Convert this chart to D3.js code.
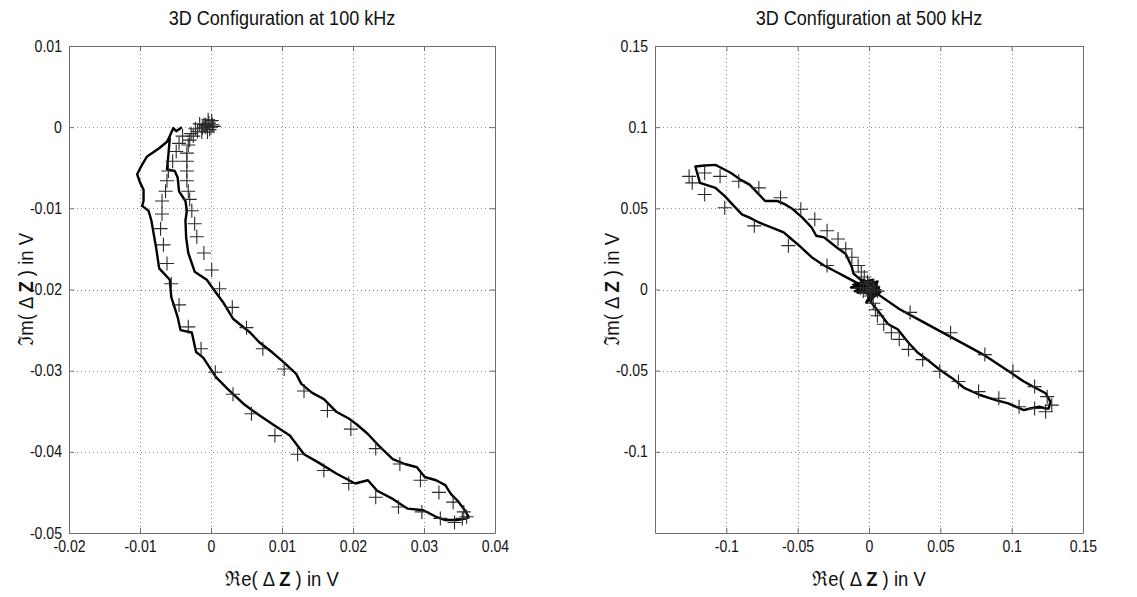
<!DOCTYPE html>
<html><head><meta charset="utf-8">
<script src="https://cdn.jsdelivr.net/npm/d3@7"></script>
<style>body{margin:0;background:#fff}svg{display:block}text{font-family:"Liberation Sans",Arial,sans-serif}</style>
</head><body>
<svg id="fig" width="1137" height="597"></svg>
<script>
// ---- 100 kHz panel ----
const ticksX100=[-0.02,-0.01,0,0.01,0.02,0.03,0.04];
const ticksY100=[0.01,0,-0.01,-0.02,-0.03,-0.04,-0.05];
const loop100=[[-0.0041,0.0000],[-0.0049,-0.0005],[-0.0053,-0.0001],[-0.0058,-0.0011],[-0.0062,-0.0018],[-0.0073,-0.0026],[-0.0090,-0.0036],[-0.0097,-0.0046],[-0.0104,-0.0058],[-0.0100,-0.0068],[-0.0095,-0.0077],[-0.0095,-0.0091],[-0.0097,-0.0097],[-0.0088,-0.0103],[-0.0084,-0.0115],[-0.0081,-0.0130],[-0.0077,-0.0150],[-0.0073,-0.0174],[-0.0058,-0.0188],[-0.0056,-0.0209],[-0.0047,-0.0234],[-0.0043,-0.0250],[-0.0027,-0.0253],[-0.0021,-0.0277],[-0.0011,-0.0284],[0.0007,-0.0308],[0.0024,-0.0323],[0.0046,-0.0341],[0.0068,-0.0355],[0.0090,-0.0368],[0.0111,-0.0380],[0.0131,-0.0403],[0.0151,-0.0413],[0.0177,-0.0427],[0.0203,-0.0439],[0.0221,-0.0435],[0.0234,-0.0448],[0.0256,-0.0458],[0.0277,-0.0470],[0.0299,-0.0472],[0.0317,-0.0480],[0.0330,-0.0484],[0.0347,-0.0484],[0.0360,-0.0482],[0.0363,-0.0480],
[0.0356,-0.0470],[0.0347,-0.0460],[0.0338,-0.0452],[0.0330,-0.0441],[0.0317,-0.0435],[0.0301,-0.0431],[0.0290,-0.0419],[0.0273,-0.0415],[0.0256,-0.0409],[0.0238,-0.0394],[0.0221,-0.0378],[0.0205,-0.0366],[0.0194,-0.0359],[0.0177,-0.0351],[0.0159,-0.0335],[0.0142,-0.0327],[0.0127,-0.0316],[0.0120,-0.0304],[0.0103,-0.0290],[0.0087,-0.0278],[0.0068,-0.0265],[0.0055,-0.0253],[0.0031,-0.0236],[0.0018,-0.0217],[0.0003,-0.0199],[-0.0006,-0.0188],[-0.0023,-0.0178],[-0.0032,-0.0155],[-0.0035,-0.0136],[-0.0036,-0.0115],[-0.0034,-0.0103],[-0.0036,-0.0091],[-0.0045,-0.0079],[-0.0047,-0.0062],[-0.0051,-0.0054],[-0.0062,-0.0052],[-0.0060,-0.0034],[-0.0058,-0.0013]];
const plus100=[[0,0],[0.0004,0.0001],[-0.0003,0.0005],[-0.0006,0.0002],[-0.0002,-0.0003],[-0.0010,0.0003],[0.0001,0.0008],[-0.0005,-0.0006],[-0.0008,0.0000],[-0.0016,0.0004],[-0.0022,-0.0002],[-0.0028,-0.0008],[-0.0013,-0.0006],[0.0002,0.0003],[-0.0004,0.0009],
[-0.0008,0.0003],[-0.0012,-0.0001],[-0.0019,-0.0005],[-0.0025,-0.0011],[-0.0030,-0.0016],[-0.0032,-0.0022],[-0.0034,-0.0032],[-0.0034,-0.0042],[-0.0034,-0.0054],[-0.0034,-0.0066],[-0.0032,-0.0079],[-0.0030,-0.0089],[-0.0027,-0.0103],[-0.0023,-0.0119],[-0.0020,-0.0135],[-0.0010,-0.0155],[0.0001,-0.0176],[0.0012,-0.0199],[0.0030,-0.0222],[0.0050,-0.0247],[0.0073,-0.0273],[0.0103,-0.0298],[0.0131,-0.0325],[0.0164,-0.0349],[0.0197,-0.0372],[0.0232,-0.0396],[0.0266,-0.0415],[0.0295,-0.0435],[0.0321,-0.0450],[0.0341,-0.0462],[0.0356,-0.0474],[0.0360,-0.0480],
[-0.0040,-0.0011],[-0.0045,-0.0020],[-0.0049,-0.0030],[-0.0054,-0.0042],[-0.0060,-0.0054],[-0.0062,-0.0066],[-0.0064,-0.0079],[-0.0069,-0.0091],[-0.0069,-0.0107],[-0.0071,-0.0125],[-0.0067,-0.0145],[-0.0062,-0.0168],[-0.0056,-0.0193],[-0.0045,-0.0219],[-0.0032,-0.0246],[-0.0014,-0.0273],[0.0006,-0.0302],[0.0031,-0.0329],[0.0057,-0.0353],[0.0090,-0.0380],[0.0122,-0.0403],[0.0159,-0.0423],[0.0194,-0.0439],[0.0232,-0.0456],[0.0264,-0.0468],[0.0297,-0.0474],[0.0323,-0.0482],[0.0343,-0.0487],[0.0354,-0.0482]];

// ---- 500 kHz panel ----
const ticks500=[-0.1,-0.05,0,0.05,0.1,0.15];
const loop500=[[0.0015,-0.0079],[0.0081,-0.0152],[0.0135,-0.0214],[0.0201,-0.0245],[0.0277,-0.0328],[0.0343,-0.0390],[0.0408,-0.0432],[0.0496,-0.0494],[0.0583,-0.0546],[0.0670,-0.0608],[0.0779,-0.0650],[0.0889,-0.0681],[0.0976,-0.0701],[0.1085,-0.0743],[0.1129,-0.0733],[0.1194,-0.0722],[0.1238,-0.0733],[0.1260,-0.0733],
[0.1271,-0.0691],[0.1238,-0.0639],[0.1172,-0.0608],[0.1085,-0.0567],[0.0998,-0.0515],[0.0910,-0.0463],[0.0801,-0.0401],[0.0670,-0.0338],[0.0517,-0.0266],[0.0365,-0.0193],[0.0212,-0.0120],[0.0059,-0.0027],[-0.0028,0.0015],[-0.0141,0.0067],[-0.0228,0.0108],[-0.0315,0.0148],[-0.0402,0.0199],[-0.0489,0.0270],[-0.0544,0.0311],[-0.0598,0.0352],[-0.0685,0.0382],[-0.0772,0.0413],[-0.0837,0.0443],[-0.0891,0.0463],[-0.0946,0.0514],[-0.1011,0.0575],[-0.1076,0.0626],[-0.1185,0.0657],[-0.1217,0.0758],
[-0.1152,0.0764],[-0.1076,0.0768],[-0.1054,0.0758],[-0.0967,0.0718],[-0.0902,0.0677],[-0.0837,0.0646],[-0.0783,0.0596],[-0.0728,0.0545],[-0.0641,0.0545],[-0.0587,0.0524],[-0.0533,0.0494],[-0.0467,0.0443],[-0.0402,0.0382],[-0.0370,0.0331],[-0.0315,0.0321],[-0.0272,0.0291],[-0.0228,0.0260],[-0.0163,0.0219],[-0.0120,0.0138],[-0.0109,0.0098],[-0.0054,0.0057],[-0.0011,0.0016],
[-0.0127,0.0012],[0.0050,0.0040],[-0.0080,-0.0020],[0.0070,0.0010],[-0.0040,0.0060],[0.0020,-0.0060],[-0.0060,0.0030],[0.0040,-0.0030],[-0.0100,-0.0010],[0.0060,0.0050],[-0.0020,-0.0080],[0.0080,-0.0015],[-0.0110,0.0030],[0.0030,0.0060],[0.0015,-0.0079]];
const plus500=[[-0.1261,0.0697],[-0.1239,0.0657],[-0.1152,0.0718],[-0.1152,0.0585],[-0.1044,0.0697],[-0.1011,0.0504],[-0.0913,0.0667],[-0.0804,0.0392],[-0.0772,0.0626],[-0.0620,0.0565],[-0.0565,0.0270],[-0.0478,0.0494],[-0.0380,0.0433],[-0.0294,0.0362],[-0.0294,0.0148],[-0.0217,0.0311],[-0.0163,0.0250],[-0.0120,0.0199],[-0.0076,0.0148],[-0.0054,0.0108],[-0.0033,0.0077],[-0.0011,0.0047],
[0,0],[0.002,-0.002],[-0.002,0.001],[0.004,0.000],[0,0.003],[-0.004,-0.001],[0.001,-0.004],[0.003,0.002],[-0.001,-0.002],[-0.006,0.001],[0.006,-0.001],[0.0030,-0.0085],[0.0045,-0.0125],
[0.0288,-0.0141],[0.0572,-0.0266],[0.0812,-0.0401],[0.1009,-0.0504],[0.1161,-0.0598],[0.1249,-0.0660],[0.1281,-0.0712],
[0.0059,-0.0162],[0.0103,-0.0214],[0.0157,-0.0266],[0.0212,-0.0307],[0.0277,-0.0369],[0.0376,-0.0432],[0.0496,-0.0504],[0.0627,-0.0567],[0.0768,-0.0629],[0.0910,-0.0670],[0.1052,-0.0722],[0.1161,-0.0733],[0.1238,-0.0753]];

const svg=d3.select('#fig');
const SQ='scale(0.88,1)';

function panel(o){
  const g=svg.append('g');
  const x=d3.scaleLinear().domain(o.xd).range([o.l,o.r]);
  const y=d3.scaleLinear().domain(o.yd).range([o.b,o.t]);
  // dotted grid
  const grid=g.append('g').attr('stroke','#8a8a8a').attr('stroke-width',1).attr('stroke-dasharray','1,3');
  grid.selectAll('.gx').data(o.tx.filter(v=>x(v)>o.l+1&&x(v)<o.r-1)).join('line')
    .attr('x1',d=>Math.round(x(d))+0.5).attr('x2',d=>Math.round(x(d))+0.5).attr('y1',o.t).attr('y2',o.b);
  grid.selectAll('.gy').data(o.ty.filter(v=>y(v)>o.t+1&&y(v)<o.b-1)).join('line')
    .attr('y1',d=>Math.round(y(d))+0.5).attr('y2',d=>Math.round(y(d))+0.5).attr('x1',o.l).attr('x2',o.r);
  // data
  g.append('path').datum(o.loop).attr('fill','none').attr('stroke','#000').attr('stroke-width',2.4)
    .attr('stroke-linejoin','round').attr('d',d3.line().x(d=>x(d[0])).y(d=>y(d[1])));
  g.append('g').selectAll('path').data(o.plus).join('path')
    .attr('transform',d=>`translate(${x(d[0])},${y(d[1])})`)
    .attr('d','M-7,0H7M0,-7V7').attr('stroke','#2a2a2a').attr('stroke-width',1.1).attr('fill','none');
  // axes box with inward ticks
  const fmt=d=>String(d);
  const mk=(axis,tr,labels)=>{
    const a=g.append('g').attr('transform',tr).attr('color','#6f6f6f')
      .call(axis.tickSizeInner(-5).tickSizeOuter(0).tickPadding(labels?8:0).tickFormat(labels?fmt:()=>''));
    a.attr('font-size',16).attr('font-family','"Liberation Sans",Arial,sans-serif');
    a.selectAll('text').attr('fill','#111').attr('transform',SQ);
    return a;
  };
  mk(d3.axisBottom(x).tickValues(o.tx),`translate(0,${o.b})`,true);
  mk(d3.axisTop(x).tickValues(o.tx),`translate(0,${o.t})`,false);
  mk(d3.axisLeft(y).tickValues(o.ty),`translate(${o.l},0)`,true);
  mk(d3.axisRight(y).tickValues(o.ty),`translate(${o.r},0)`,false);
  // texts
  const cx=(o.l+o.r)/2, cy=(o.t+o.b)/2;
  g.append('text').attr('transform',`translate(${cx},25) ${SQ}`).attr('text-anchor','middle')
    .attr('font-size',20.5).attr('fill','#111').text(o.title);
  const xl=g.append('text').attr('transform',`translate(${cx},586) ${SQ}`).attr('text-anchor','middle')
    .attr('font-size',21).attr('fill','#111');
  xl.append('tspan').text('\u211Ce( \u0394 ');xl.append('tspan').attr('font-weight','bold').text('Z');xl.append('tspan').text(' ) in V');
  const yl=g.append('text').attr('transform',`translate(${o.l-36},${cy}) rotate(-90) ${SQ}`).attr('text-anchor','middle')
    .attr('font-size',21).attr('fill','#111');
  yl.append('tspan').text('\u2111m( \u0394 ');yl.append('tspan').attr('font-weight','bold').text('Z');yl.append('tspan').text(' ) in V');
}

panel({l:69,r:495,t:46,b:533,xd:[-0.02,0.04],yd:[-0.05,0.01],tx:ticksX100,ty:ticksY100,
  loop:loop100,plus:plus100,title:'3D Configuration at 100 kHz'});
panel({l:655,r:1083,t:46,b:533,xd:[-0.15,0.15],yd:[-0.15,0.15],tx:ticks500,ty:ticks500,
  loop:loop500,plus:plus500,title:'3D Configuration at 500 kHz'});
</script>
</body></html>
